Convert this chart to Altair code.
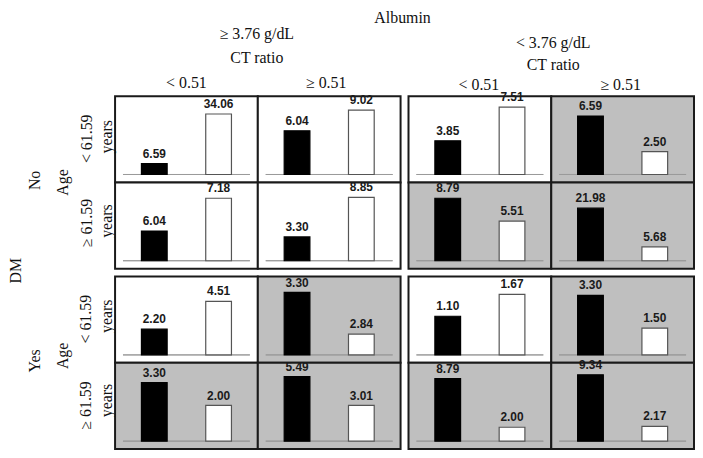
import altair as alt
import pandas as pd

# ---------------- data ----------------
row_dm = ["No", "No", "Yes", "Yes"]
row_age = ["< 61.59", "≥ 61.59", "< 61.59", "≥ 61.59"]
col_albumin = ["≥ 3.76 g/dL", "≥ 3.76 g/dL", "< 3.76 g/dL", "< 3.76 g/dL"]
col_ct = ["< 0.51", "≥ 0.51", "< 0.51", "≥ 0.51"]

# printed values (black bar, white bar) per cell, row-major
label_black = [
    [6.59, 6.04, 3.85, 6.59],
    [6.04, 3.30, 8.79, 21.98],
    [2.20, 3.30, 1.10, 3.30],
    [3.30, 5.49, 8.79, 9.34],
]
label_white = [
    [34.06, 9.02, 7.51, 2.50],
    [7.18, 8.85, 5.51, 5.68],
    [4.51, 2.84, 1.67, 1.50],
    [2.00, 3.01, 2.00, 2.17],
]
# drawn bar heights (relative units, as drawn in the figure)
height_black = [
    [11, 44, 34, 59],
    [30, 24, 63, 53],
    [26, 63, 39, 60],
    [59, 65, 63, 67],
]
height_white = [
    [61, 65, 68, 23],
    [63, 64, 40, 14],
    [54, 21, 61, 27],
    [36, 36, 14, 15],
]
# shaded cells
shaded = [
    [False, False, False, True],
    [False, False, True, True],
    [False, True, False, True],
    [True, True, True, True],
]
groups = ["black", "white"]

# ---------------- layout / style ----------------
CW, CH = 144, 87     # drawn cell box
GAP = 8              # gap between the 2x2 blocks
SERIF = "Liberation Serif"
SANS = "Liberation Sans"
GREY = "#bfbfbf"


def text_mark(t, x, y, angle=0, size=16):
    return alt.Chart(pd.DataFrame({"t": [t]})).mark_text(
        font=SERIF, fontSize=size, color="#111111", angle=angle,
        align="center", baseline="middle"
    ).encode(x=alt.value(x), y=alt.value(y), text="t:N")


def headers():
    return [
        text_mark("Albumin", 290, -79),
        text_mark(col_albumin[0], 143, -63),
        text_mark("CT ratio", 143, -38),
        text_mark(col_albumin[2], 442, -54),
        text_mark("CT ratio", 442, -31),
        text_mark(col_ct[0], 72, -13),
        text_mark(col_ct[1], 213, -13),
        text_mark(col_ct[2], 367, -11),
        text_mark(col_ct[3], 510, -11),
        text_mark("DM", -100, 176, angle=270),
        text_mark(row_dm[0], -81, 85, angle=270),
        text_mark("Age", -52, 87, angle=270),
        text_mark(row_age[0], -28, 43, angle=270),
        text_mark("years", -8, 41, angle=270),
        text_mark(row_age[1], -28, 128, angle=270),
        text_mark("years", -8, 126, angle=270),
        text_mark(row_dm[2], -81, 267, angle=270),
        text_mark("Age", -52, 262, angle=270),
        text_mark(row_age[2], -29, 225, angle=270),
        text_mark("years", -8, 222, angle=270),
        text_mark(row_age[3], -29, 312, angle=270),
        text_mark("years", -8, 307, angle=270),
    ]


def cell(r, c):
    df = pd.DataFrame({
        "group": groups,
        "height": [height_black[r][c], height_white[r][c]],
        "base": [0, 0],
        "label": [f"{label_black[r][c]:.2f}", f"{label_white[r][c]:.2f}"],
    })
    base = alt.Chart(df)
    xscale = alt.Scale(domain=groups, range=[0, CW], paddingInner=0.6, paddingOuter=0.41)
    yscale = alt.Scale(domain=[-8, 79], range=[CH, 0], nice=False, zero=False)
    xenc = alt.X("group:N", scale=xscale, axis=None)
    yenc = alt.Y("height:Q", scale=yscale, axis=None)
    bg = alt.Chart(pd.DataFrame({"s": [1]})).mark_rect(
        fill=GREY if shaded[r][c] else "#ffffff", stroke="#1a1a1a", strokeWidth=2
    ).encode(x=alt.value(0), x2=alt.value(CW), y=alt.value(0), y2=alt.value(CH))
    rule = base.mark_rule(color="#9a9a9a", strokeWidth=1).encode(
        y=alt.Y("base:Q", scale=yscale, axis=None),
        x=alt.value(8), x2=alt.value(CW - 8)
    )
    bars = base.mark_bar(strokeWidth=1.2).encode(
        x=xenc, y=yenc, y2="base:Q",
        color=alt.Color("group:N", scale=alt.Scale(domain=groups, range=["#000000", "#ffffff"]), legend=None),
        stroke=alt.Stroke("group:N", scale=alt.Scale(domain=groups, range=["#000000", "#555555"]), legend=None),
    )
    labels = base.mark_text(font=SANS, fontSize=12, fontWeight="bold", color="#1a1a1a",
                            baseline="bottom", dy=-3).encode(x=xenc, y=yenc, text="label:N")
    layers = [bg, rule, bars, labels]
    if r == 0 and c == 0:
        layers += headers()
    w = CW + (GAP if c == 1 else 0)
    h = CH + (GAP if r == 1 else 0)
    return alt.layer(*layers).properties(width=w, height=h)


cells = [cell(r, c) for r in range(4) for c in range(4)]

chart = alt.concat(
    *cells, columns=4, spacing=0, bounds="flush", align="each"
).properties(padding=0, background="#ffffff").configure_view(strokeWidth=0)

chart.save("out.html", embed_options={"renderer": "svg", "actions": False})
